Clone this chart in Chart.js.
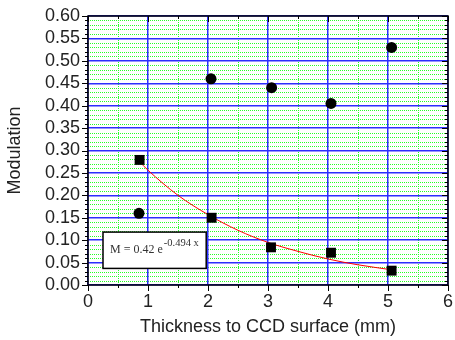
<!DOCTYPE html>
<html>
<head>
<meta charset="utf-8">
<script src="https://cdn.jsdelivr.net/npm/chart.js@4"></script>
<style>
  html, body { margin: 0; padding: 0; background: #fff; }
  #wrap { width: 455px; height: 340px; }
</style>
</head>
<body>
<div id="wrap"><canvas id="displayGraph"></canvas></div>
<script>
//******************************************* Données *******************************************
const CIRCLE_X = [0.85, 2.05, 3.06, 4.05, 5.06]
const CIRCLE_Y = [0.160, 0.460, 0.440, 0.405, 0.530]
const SQUARE_X = [0.86, 2.06, 3.05, 4.05, 5.06]
const SQUARE_Y = [0.279, 0.150, 0.084, 0.072, 0.032]
// courbe rouge (fit exponentiel) relevée point par point
const FIT_X = [0.85, 1.0, 1.5, 2.0, 2.5, 3.0, 3.5, 4.0, 4.5, 5.06]
const FIT_Y = [0.276, 0.256, 0.200, 0.157, 0.122, 0.095, 0.075, 0.058, 0.045, 0.034]
const X_TICKS = [0, 1, 2, 3, 4, 5, 6]
const Y_TICKS = [0, 0.05, 0.10, 0.15, 0.20, 0.25, 0.30, 0.35, 0.40, 0.45, 0.50, 0.55, 0.60]
const X_TITLE = 'Thickness to CCD surface (mm)'
const Y_TITLE = 'Modulation'
const FIT_TEXT = 'M = 0.42 e'
const FIT_EXP = '-0.494 x'

const FONT = '"Liberation Sans", Arial, sans-serif'
const BLUE = 'rgb(45,45,255)'
const GREEN = 'rgb(40,255,40)'

// transforme deux listes en points {x, y}
function toPoints(xs, ys) {
  return xs.map((x, i) => ({ x: x, y: ys[i] }))
}

// grille secondaire verte en pointillés (dessinée avant la grille bleue)
const minorGrid = {
  id: 'minorGrid',
  beforeDraw(chart) {
    const { ctx, chartArea: a, scales: { x, y } } = chart
    ctx.save()
    ctx.strokeStyle = GREEN
    ctx.lineWidth = 1
    ctx.setLineDash([1, 1])
    for (let v = 0.5; v < 6; v += 1) {
      const px = Math.round(x.getPixelForValue(v)) + 0.5
      ctx.beginPath(); ctx.moveTo(px, a.top); ctx.lineTo(px, a.bottom); ctx.stroke()
    }
    for (let k = 1; k < 60; k++) {
      if (k % 5 === 0) continue
      const py = Math.round(y.getPixelForValue(k / 100)) + 0.5
      ctx.beginPath(); ctx.moveTo(a.left, py); ctx.lineTo(a.right, py); ctx.stroke()
    }
    ctx.restore()
  }
}

// cadre noir, graduations et encadré de l'équation
const frameAndBox = {
  id: 'frameAndBox',
  afterDraw(chart) {
    const { ctx, chartArea: a, scales: { x, y } } = chart
    ctx.save()
    ctx.strokeStyle = '#000'
    ctx.lineWidth = 1.5
    ctx.strokeRect(a.left, a.top, a.right - a.left, a.bottom - a.top)

    ctx.lineWidth = 1
    ctx.beginPath()
    for (let k = 0; k <= 60; k++) {
      const py = Math.round(y.getPixelForValue(k / 100)) + 0.5
      const len = k % 5 === 0 ? 6 : 3
      ctx.moveTo(a.left - len, py); ctx.lineTo(a.left, py)
      ctx.moveTo(a.right, py); ctx.lineTo(a.right - len, py)
    }
    for (let k = 0; k <= 12; k++) {
      const px = Math.round(x.getPixelForValue(k / 2)) + 0.5
      const len = k % 2 === 0 ? 6 : 3
      ctx.moveTo(px, a.bottom); ctx.lineTo(px, a.bottom + len)
      ctx.moveTo(px, a.top); ctx.lineTo(px, a.top + len)
    }
    ctx.stroke()

    // encadré "M = 0.42 e^-0.494 x"
    const bx1 = x.getPixelForValue(0.25), bx2 = x.getPixelForValue(1.97)
    const by1 = y.getPixelForValue(0.118), by2 = y.getPixelForValue(0.037)
    ctx.fillStyle = '#fff'
    ctx.fillRect(bx1, by1, bx2 - bx1, by2 - by1)
    ctx.lineWidth = 1.5
    ctx.strokeRect(bx1, by1, bx2 - bx1, by2 - by1)
    ctx.fillStyle = '#333'
    ctx.textBaseline = 'alphabetic'
    ctx.font = '12px "Liberation Serif", "Times New Roman", serif'
    ctx.fillText(FIT_TEXT, bx1 + 7, by1 + 21)
    const w = ctx.measureText(FIT_TEXT).width
    ctx.font = '10.5px "Liberation Serif", "Times New Roman", serif'
    ctx.fillText(FIT_EXP, bx1 + 7 + w + 1, by1 + 14)
    ctx.restore()
  }
}

document.addEventListener('DOMContentLoaded', function () {
  const config = {
    type: 'scatter',
    data: {
      datasets: [
        {
          label: 'circles',
          data: toPoints(CIRCLE_X, CIRCLE_Y),
          pointStyle: 'circle',
          pointRadius: 5.5,
          backgroundColor: '#000',
          borderColor: '#000',
          borderWidth: 0
        },
        {
          label: 'squares',
          data: toPoints(SQUARE_X, SQUARE_Y),
          pointStyle: 'rect',
          pointRadius: 7,
          backgroundColor: '#000',
          borderColor: '#000',
          borderWidth: 0
        },
        {
          label: 'fit',
          data: toPoints(FIT_X, FIT_Y),
          showLine: true,
          pointRadius: 0,
          borderColor: 'rgb(255,0,0)',
          borderWidth: 1,
          cubicInterpolationMode: 'monotone'
        }
      ]
    },
    options: {
      responsive: true,
      maintainAspectRatio: false,
      animation: false,
      layout: { padding: { left: 0, top: 16, right: 3, bottom: 0 } },
      plugins: {
        legend: { display: false },
        tooltip: { enabled: false }
      },
      scales: {
        x: {
          type: 'linear',
          min: 0,
          max: 6,
          afterBuildTicks: s => { s.ticks = X_TICKS.map(v => ({ value: v })) },
          afterFit: s => { s.height = 55; s.paddingLeft = 0; s.paddingRight = 0 },
          ticks: {
            color: '#222',
            font: { family: FONT, size: 18 },
            padding: 6,
            maxRotation: 0,
            autoSkip: false
          },
          grid: { color: BLUE, lineWidth: 1.5, drawTicks: false },
          border: { display: false },
          title: {
            display: true,
            text: X_TITLE,
            color: '#222',
            font: { family: FONT, size: 18 },
            padding: { top: 0, bottom: 2 }
          }
        },
        y: {
          type: 'linear',
          min: 0,
          max: 0.6,
          afterBuildTicks: s => { s.ticks = Y_TICKS.map(v => ({ value: v })) },
          afterFit: s => { s.width = 88; s.paddingTop = 0; s.paddingBottom = 0 },
          ticks: {
            color: '#222',
            font: { family: FONT, size: 18 },
            padding: 8,
            autoSkip: false,
            callback: v => v.toFixed(2)
          },
          grid: { color: BLUE, lineWidth: 1.5, drawTicks: false },
          border: { display: false },
          title: {
            display: true,
            text: Y_TITLE,
            color: '#222',
            font: { family: FONT, size: 18 },
            padding: { top: 4, bottom: 0 }
          }
        }
      }
    },
    plugins: [minorGrid, frameAndBox]
  }

  const DISPLAYGRAPH = document.getElementById('displayGraph')
  new Chart(DISPLAYGRAPH, config)
})
</script>
</body>
</html>
